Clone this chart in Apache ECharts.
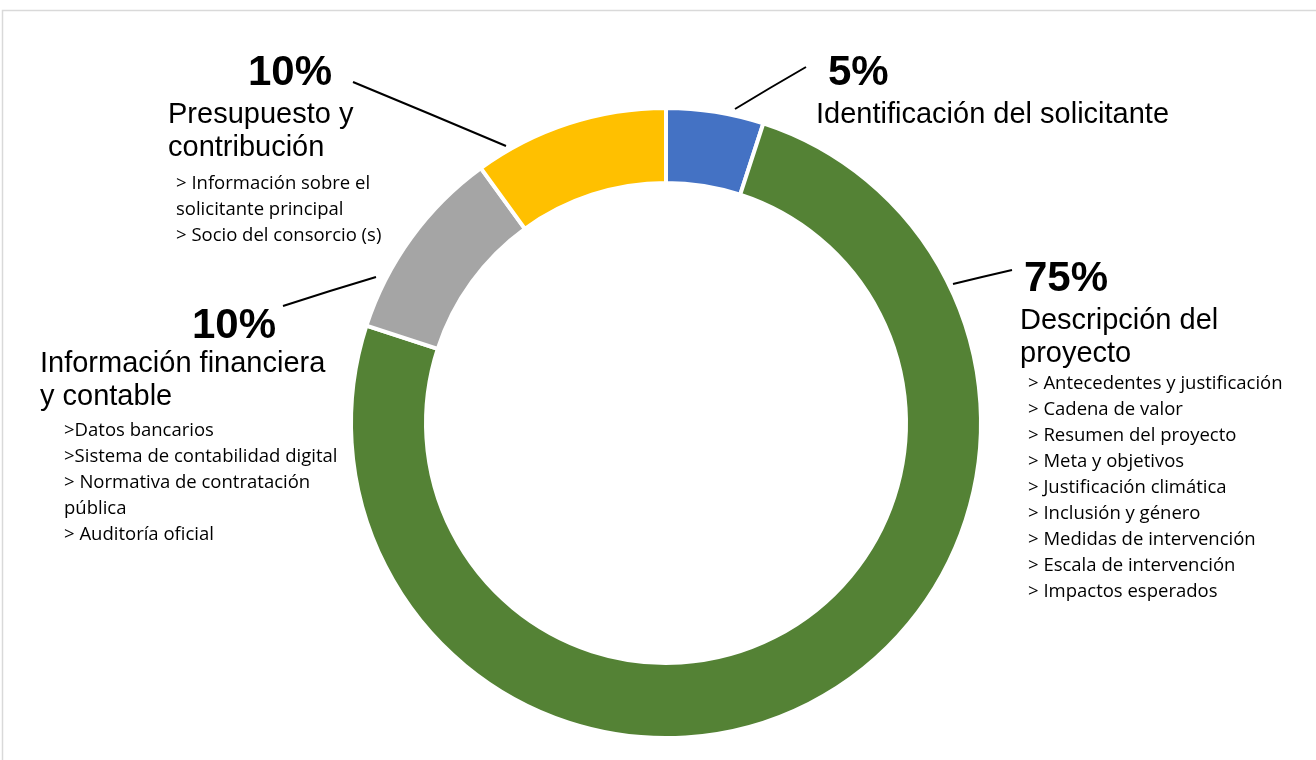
<!DOCTYPE html>
<html>
<head>
<meta charset="utf-8">
<script src="https://cdn.jsdelivr.net/npm/echarts@6/dist/echarts.min.js"></script>
<style>
  html, body { margin: 0; padding: 0; background: #fff; }
  #chart { width: 1316px; height: 760px; }
</style>
</head>
<body>
<div id="chart"></div>
<script>
// datos del gráfico
var categories = ['Identificación del solicitante', 'Descripción del proyecto', 'Información financiera y contable', 'Presupuesto y contribución'];
var values = [5, 75, 10, 10];
var colors = ['#4472C4', '#548235', '#A5A5A5', '#FFC000'];
var nameLines = [
	['Identificación del solicitante'],
	['Descripción del', 'proyecto'],
	['Información financiera', 'y contable'],
	['Presupuesto y', 'contribución']
];
var subItems = [
	[],
	['> Antecedentes y justificación', '> Cadena de valor', '> Resumen del proyecto', '> Meta y objetivos',
	 '> Justificación climática', '> Inclusión y género', '> Medidas de intervención', '> Escala de intervención',
	 '> Impactos esperados'],
	['>Datos bancarios', '>Sistema de contabilidad digital', '> Normativa de contratación', 'pública', '> Auditoría oficial'],
	['> Información sobre el', 'solicitante principal', '> Socio del consorcio (s)']
];

// posición de cada etiqueta (x, y superior) y su línea guía
var labelBox = [
	{x: 816, y: 48, pctPad: 12, pctLH: 50, subPad: 0, gap: 1, line: [[735, 109], [770, 88], [806, 67]]},
	{x: 1020, y: 254, pctPad: 4, pctLH: 50, subPad: 8, gap: 1, line: [[953, 284], [982, 277], [1012, 270]]},
	{x: 40, y: 305, pctPad: 152, pctLH: 42, subPad: 24, gap: 5, line: [[376, 277], [330, 291], [283, 306]]},
	{x: 168, y: 48, pctPad: 80, pctLH: 50, subPad: 8, gap: 7, line: [[506, 146], [430, 114], [353, 82]]}
];

function buildRich(i) {
	var b = labelBox[i];
	return {
		pct: {fontFamily: 'Liberation Sans', fontSize: 42, fontWeight: 'bold', color: '#000', lineHeight: b.pctLH, padding: [0, 0, 0, b.pctPad]},
		name: {fontFamily: 'Liberation Sans', fontSize: 29, color: '#000', lineHeight: 33},
		gap: {fontSize: 2, lineHeight: b.gap},
		sub: {fontFamily: 'Open Sans', fontSize: 18.5, color: '#000', lineHeight: 26, padding: [0, 0, 0, b.subPad]}
	};
}

var seriesData = [];
for (var i = 0; i < values.length; i++) {
	seriesData.push({
		value: values[i],
		name: categories[i],
		itemStyle: {color: colors[i]},
		label: {rich: buildRich(i)}
	});
}

var myChart = echarts.init(document.getElementById('chart'), null, {renderer: 'canvas'});
var option = {
	backgroundColor: '#fff',
	animation: false,
	graphic: [{
		type: 'rect',
		shape: {x: 2.5, y: 10.5, width: 1330, height: 780},
		style: {fill: 'none', stroke: '#d9d9d9', lineWidth: 1.5},
		silent: true
	}],
	series: [{
		type: 'pie',
		center: [666, 423],
		radius: [240, 315],
		startAngle: 90,
		clockwise: true,
		avoidLabelOverlap: false,
		itemStyle: {borderColor: '#fff', borderWidth: 4},
		label: {
			show: true,
			position: 'outside',
			align: 'left',
			formatter: function (p) {
				var i = p.dataIndex;
				var s = '{pct|' + values[i] + '%}';
				nameLines[i].forEach(function (t) { s += '\n{name|' + t + '}'; });
				if (subItems[i].length) {
					s += '\n{gap| }';
					subItems[i].forEach(function (t) { s += '\n{sub|' + t + '}'; });
				}
				return s;
			}
		},
		labelLine: {show: true, lineStyle: {color: '#000', width: 2}},
		labelLayout: function (p) {
			var b = labelBox[p.dataIndex];
			return {x: b.x, y: b.y, align: 'left', verticalAlign: 'top', labelLinePoints: b.line};
		},
		emphasis: {disabled: true},
		data: seriesData
	}]
};
myChart.setOption(option);
</script>
</body>
</html>
